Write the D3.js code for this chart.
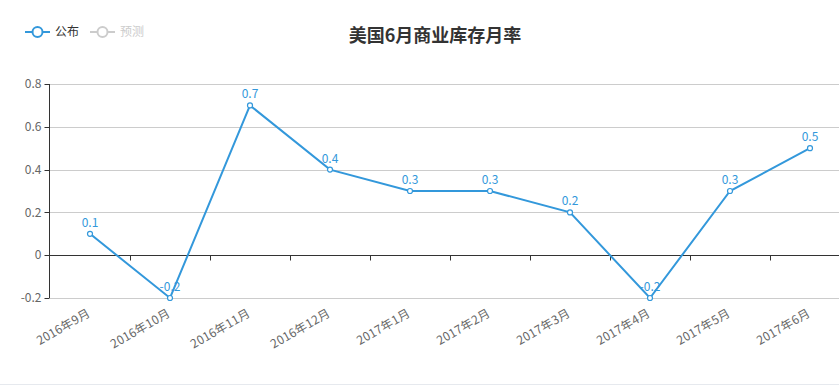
<!DOCTYPE html>
<html>
<head>
<meta charset="utf-8">
<script src="https://cdn.jsdelivr.net/npm/d3@7"></script>
<style>
  body { margin: 0; background: #fff; }
  svg { display: block; font-family: "Noto Sans CJK SC", "Noto Sans", sans-serif; }
</style>
</head>
<body>
<div id="chart"></div>
<script>
// months and the published values
const months = ["2016年9月", "2016年10月", "2016年11月", "2016年12月", "2017年1月",
                "2017年2月", "2017年3月", "2017年4月", "2017年5月", "2017年6月"];
const published = [0.1, -0.2, 0.7, 0.4, 0.3, 0.3, 0.2, -0.2, 0.3, 0.5];
const yTicks = [-0.2, 0, 0.2, 0.4, 0.6, 0.8];
const legendNames = ["公布", "预测"];

const width = 839;
const height = 385;
const blue = "#3398db";

const svg = d3.select("#chart")
    .append("svg")
    .attr("width", width)
    .attr("height", height);

// the plot runs past the right edge, like the original
const xScale = d3.scalePoint()
    .domain(months)
    .range([50, 850])
    .padding(0.5);

const yScale = d3.scaleLinear()
    .domain([-0.2, 0.8])
    .range([298, 84]);

const step = xScale.step();

// grid lines
svg.selectAll(".grid")
    .data(yTicks.filter(function(d) { return d !== 0; }))
    .enter()
    .append("line")
        .attr("x1", 50)
        .attr("x2", width)
        .attr("y1", function(d) { return Math.round(yScale(d)) + 0.5; })
        .attr("y2", function(d) { return Math.round(yScale(d)) + 0.5; })
        .attr("stroke", "#ccc");

// y axis
const yAxis = svg.append("g")
    .attr("transform", "translate(49.5,0)");

yAxis.append("line")
    .attr("y1", yScale(0.8))
    .attr("y2", yScale(-0.2))
    .attr("stroke", "#333");

yAxis.selectAll(".tick")
    .data(yTicks)
    .enter()
    .append("line")
        .attr("x1", -5)
        .attr("x2", 0)
        .attr("y1", function(d) { return Math.round(yScale(d)) + 0.5; })
        .attr("y2", function(d) { return Math.round(yScale(d)) + 0.5; })
        .attr("stroke", "#333");

yAxis.selectAll("text")
    .data(yTicks)
    .enter()
    .append("text")
        .attr("x", -8)
        .attr("y", function(d) { return yScale(d); })
        .attr("dy", "0.35em")
        .style("text-anchor", "end")
        .style("font-size", "12px")
        .style("fill", "#666")
        .text(function(d) { return d; });

// x axis on zero
const zeroY = Math.round(yScale(0)) + 0.5;
svg.append("line")
    .attr("x1", 49)
    .attr("x2", width)
    .attr("y1", zeroY)
    .attr("y2", zeroY)
    .attr("stroke", "#333");

svg.selectAll(".xtick")
    .data(months)
    .enter()
    .append("line")
        .attr("x1", function(d) { return Math.round(xScale(d) + step / 2) + 0.5; })
        .attr("x2", function(d) { return Math.round(xScale(d) + step / 2) + 0.5; })
        .attr("y1", zeroY)
        .attr("y2", zeroY + 5)
        .attr("stroke", "#333");

svg.selectAll(".xlabel")
    .data(months)
    .enter()
    .append("text")
        .attr("transform", function(d) {
            return `translate(${xScale(d) - 1},${yScale(-0.2) + 14}) rotate(-30)`;
        })
        .attr("dy", "0.35em")
        .style("text-anchor", "end")
        .style("font-size", "12px")
        .style("letter-spacing", "0.3px")
        .style("fill", "#666")
        .text(function(d) { return d; });

// the line
const line = d3.line()
    .x(function(d, i) { return xScale(months[i]); })
    .y(function(d) { return yScale(d); });

svg.append("path")
    .datum(published)
    .attr("d", line)
    .attr("fill", "none")
    .attr("stroke", blue)
    .attr("stroke-width", 2);

svg.selectAll(".dot")
    .data(published)
    .enter()
    .append("circle")
        .attr("cx", function(d, i) { return xScale(months[i]); })
        .attr("cy", function(d) { return yScale(d); })
        .attr("r", 2.5)
        .attr("fill", "#fff")
        .attr("stroke", blue)
        .attr("stroke-width", 1.2);

svg.selectAll(".val")
    .data(published)
    .enter()
    .append("text")
        .attr("x", function(d, i) { return xScale(months[i]); })
        .attr("y", function(d) { return yScale(d) - 7; })
        .style("text-anchor", "middle")
        .style("font-size", "12px")
        .style("fill", blue)
        .text(function(d) { return d; });

// title
svg.append("text")
    .attr("x", 435)
    .attr("y", 42)
    .style("text-anchor", "middle")
    .style("font-size", "18px")
    .style("font-weight", "bold")
    .style("fill", "#333")
    .text("美国6月商业库存月率");

// legend
const legendColors = [blue, "#ccc"];
const legend = svg.selectAll(".legend")
    .data(legendNames)
    .enter()
    .append("g")
        .attr("transform", function(d, i) { return `translate(${25 + i * 65},32)`; });

legend.append("line")
    .attr("x1", 0)
    .attr("x2", 25)
    .attr("stroke", function(d, i) { return legendColors[i]; })
    .attr("stroke-width", 2);

legend.append("circle")
    .attr("cx", 12.5)
    .attr("r", 5)
    .attr("fill", "#fff")
    .attr("stroke", function(d, i) { return legendColors[i]; })
    .attr("stroke-width", 2);

legend.append("text")
    .attr("x", 30)
    .attr("dy", "0.35em")
    .style("font-size", "12px")
    .style("fill", function(d, i) { return i === 0 ? "#333" : "#ccc"; })
    .text(function(d) { return d; });

// faint line at the bottom
svg.append("line")
    .attr("x1", 0)
    .attr("x2", width)
    .attr("y1", 384.5)
    .attr("y2", 384.5)
    .attr("stroke", "#e6e9ee");
</script>
</body>
</html>
